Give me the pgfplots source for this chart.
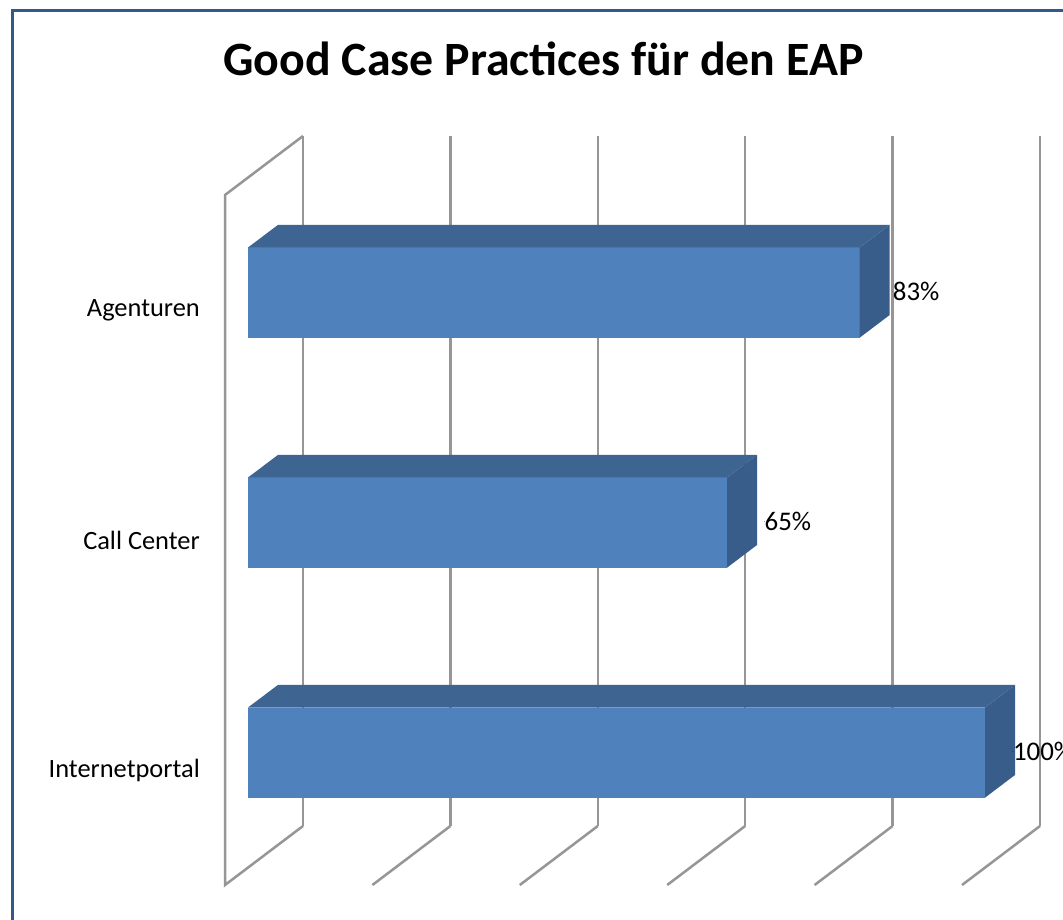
\documentclass[border=0pt]{standalone}
\usepackage{pgfplots}
\pgfplotsset{compat=1.18}
\usepackage{pgfplotstable}
\usepackage{fontspec}
\setmainfont{Carlito}

\definecolor{barfront}{RGB}{79,129,189}
\definecolor{bartop}{RGB}{62,100,146}
\definecolor{barside}{RGB}{56,93,138}
\definecolor{gridc}{RGB}{150,150,150}
\definecolor{framec}{RGB}{52,88,140}

% category index k (0 = bottom), value v in percent, label offset dx
\pgfplotstableread{
k v dx
0 100 6.9
1 65 8.2
2 83 7.6
}\datatable

% one 3D bar: #1 = category index, #2 = value
\newcommand\threedbar[2]{%
  \pgfmathsetmacro\xb{#2+3.12}%
  \pgfmathsetmacro\xc{#2+7.19}%
  \pgfmathsetmacro\ya{#1+0.3797}%
  \pgfmathsetmacro\yb{#1+0.7717}%
  \pgfmathsetmacro\yc{#1+0.4783}%
  \pgfmathsetmacro\yd{#1+0.870}%
  \edef\doit{%
    \noexpand\addplot[draw=none, fill=barfront] coordinates {(3.12,\ya) (\xb,\ya) (\xb,\yb) (3.12,\yb)} --cycle;
    \noexpand\addplot[draw=none, fill=bartop] coordinates {(3.12,\yb) (\xb,\yb) (\xc,\yd) (7.19,\yd)} --cycle;
    \noexpand\addplot[draw=none, fill=barside] coordinates {(\xb,\ya) (\xc,\yc) (\xc,\yd) (\xb,\yb)} --cycle;
  }\doit
}

\begin{document}
\begin{tikzpicture}[x=1bp,y=1bp]
\useasboundingbox (0,0) rectangle (1063,920);
\clip (0,0) rectangle (1063,920);
\fill[white] (0,0) rectangle (1063,920);
\draw[line width=3bp, framec] (12.5,909.5) rectangle (1090,-30);

\node[anchor=base, font=\fontsize{48}{56}\selectfont\bfseries] at (543.5,844.5) {Good Case Practices für den EAP};

\begin{axis}[
  at={(225bp,35bp)}, anchor=south west,
  x=7.37bp, y=230bp,
  xmin=0, xmax=110.583, ymin=0, ymax=3.2565,
  enlargelimits=false, clip=false,
  axis line style={draw=none},
  major tick length=0pt,
  xtick=\empty,
  ytick={0.5,1.5,2.5},
  yticklabels={Internetportal, Call Center, Agenturen},
  yticklabel style={font=\fontsize{26.5}{31}\selectfont, inner sep=0pt, xshift=-25bp, text=black},
]
% back wall gridlines
\addplot[gridc, line width=2.5bp] coordinates {(10.583,0.2565) (10.583,3.2565)};
\addplot[gridc, line width=2.5bp] coordinates {(30.583,0.2565) (30.583,3.2565)};
\addplot[gridc, line width=2.5bp] coordinates {(50.583,0.2565) (50.583,3.2565)};
\addplot[gridc, line width=2.5bp] coordinates {(70.583,0.2565) (70.583,3.2565)};
\addplot[gridc, line width=2.5bp] coordinates {(90.583,0.2565) (90.583,3.2565)};
\addplot[gridc, line width=2.5bp] coordinates {(110.583,0.2565) (110.583,3.2565)};
% left side wall
\addplot[gridc, line width=2.5bp] coordinates {(10.583,3.2565) (0,3) (0,0) (10.583,0.2565)};
% floor lines
\addplot[gridc, line width=2.5bp] coordinates {(20,0) (30.583,0.2565)};
\addplot[gridc, line width=2.5bp] coordinates {(40,0) (50.583,0.2565)};
\addplot[gridc, line width=2.5bp] coordinates {(60,0) (70.583,0.2565)};
\addplot[gridc, line width=2.5bp] coordinates {(80,0) (90.583,0.2565)};
\addplot[gridc, line width=2.5bp] coordinates {(100,0) (110.583,0.2565)};
% bars
\threedbar{2}{83}
\threedbar{1}{65}
\threedbar{0}{100}
% data labels
\addplot[only marks, mark=*, mark size=0.01pt, mark options={draw=none, fill=none},
  point meta=explicit,
  nodes near coords={\pgfmathprintnumber[assume math mode=true]{\pgfplotspointmeta}\%},
  every node near coord/.append style={anchor=west, inner sep=0pt, font=\fontsize{27}{32}\selectfont, text=black}]
  table[x expr=\thisrow{v}+\thisrow{dx}, y expr=\thisrow{k}+0.58, meta=v] {\datatable};
\end{axis}
\end{tikzpicture}
\end{document}
